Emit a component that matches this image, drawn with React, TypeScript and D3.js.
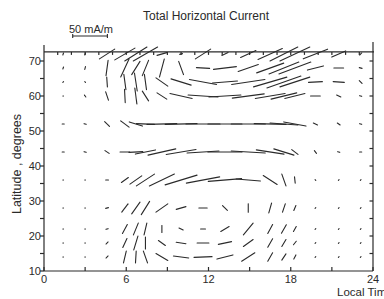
import React from "react";
import * as d3 from "d3";

// grid of the vectors: local time (h) and latitude (deg)
const hours = [1.4, 3.0, 4.6, 5.9, 6.7, 7.4, 8.6, 10.0, 11.6, 13.2, 14.9, 16.5, 17.5, 18.3, 19.8, 21.5, 23.1];
const lats = [72, 68, 64, 60, 52, 44, 36, 28, 22, 18, 14];

// [east, north] current in mA/m, one pair per local time
const lat72 = [[1, 3], [1, 3], [22, 14], [29, 17], [32, 20], [35, 20], [14, 4], [4, 1], [22, 14], [9, 4], [22, 10], [35, 16], [40, 20], [43, 20], [35, 14], [20, 9], [3, 3]];
const lat68 = [[1, 3], [1, 4], [3, 22], [12, 26], [12, 19], [9, 22], [7, 26], [7, -19], [19, -1], [33, 4], [29, 10], [39, 14], [43, 17], [46, 17], [23, 6], [14, 0], [4, -1]];
const lat64 = [[1, 1], [1, -1], [1, -14], [3, -22], [4, -26], [3, -22], [17, -12], [29, -9], [39, -7], [36, 3], [48, 7], [48, 14], [49, 17], [43, 14], [20, 1], [16, -1], [4, -4]];
const lat60 = [[1, 0], [2, -3], [4, -12], [1, -19], [3, -23], [9, -14], [14, -9], [32, -7], [43, -3], [46, 3], [46, 6], [43, 7], [37, 9], [29, 7], [14, 0], [6, -3], [3, -1]];
const lat52 = [[3, 0], [3, -1], [7, -7], [12, -9], [19, -6], [26, -1], [43, 1], [46, 1], [49, 0], [49, 0], [49, 0], [46, -1], [40, -3], [32, -6], [6, -3], [4, -3], [3, -1]];
const lat44 = [[3, 0], [3, -1], [6, -4], [14, 0], [20, 1], [29, 6], [40, 9], [43, 7], [46, 3], [49, 0], [49, -3], [40, -6], [29, -9], [9, -7], [3, -4], [3, -1], [3, 0]];
const lat36 = [[1, 0], [1, 0], [4, 0], [10, 7], [17, 12], [26, 17], [36, 17], [46, 14], [48, 9], [48, 4], [35, -3], [20, -13], [6, -17], [1, -9], [1, -1], [1, 1], [1, 1]];
const lat28 = [[1, 0], [1, 0], [4, 1], [9, 12], [12, 17], [12, 19], [17, 12], [14, 4], [12, 0], [7, -7], [0, 12], [4, 14], [4, 12], [3, 7], [1, 1], [1, 1], [1, 1]];
const lat22 = [[1, 0], [1, 0], [3, 1], [7, 13], [7, 17], [4, 17], [0, 10], [6, -3], [7, 0], [12, 7], [14, 17], [7, 13], [7, 12], [4, 7], [1, 1], [1, 1], [1, 1]];
const lat18 = [[1, 0], [1, 0], [3, 3], [6, 13], [6, 20], [0, 17], [10, -7], [14, -2], [17, 0], [19, 4], [14, 10], [7, 12], [6, 10], [4, 5], [1, 1], [1, 1], [1, 1]];
const lat14 = [[1, 0], [1, 0], [3, 3], [4, 17], [1, 17], [-6, 17], [17, -10], [22, -3], [26, 1], [23, 6], [19, 12], [7, 12], [6, 9], [3, 6], [1, 1], [1, 1], [1, 1]];
const rows = [lat72, lat68, lat64, lat60, lat52, lat44, lat36, lat28, lat22, lat18, lat14];

const latLabels = [10, 20, 30, 40, 50, 60, 70];
const latMinor = [15, 25, 35, 45, 55, 65];
const timeLabels = [0, 6, 12, 18, 24];
const timeMinor = [3, 9, 15, 21];
const scaleBar = 50; // mA/m

const font = "'Liberation Sans Narrow', 'Liberation Sans', Arial, sans-serif";
const ink = "#2a2a2a";

const App = () => {
    const x = d3.scaleLinear().domain([0, 24]).range([44, 373]);
    const y = d3.scaleLinear().domain([10, 70]).range([271, 61]);
    // vector length: 50 mA/m -> ~35 px
    const len = d3.scaleLinear().domain([0, 50]).range([0, 34.7]);

    const topY = y(72.6);
    const segs: { x1: number; y1: number; x2: number; y2: number }[] = [];
    rows.forEach((row, i) => {
        row.forEach(([e, n], j) => {
            const cx = x(hours[j]), cy = y(lats[i]);
            const dx = len(e) / 2, dy = len(n) / 2;
            segs.push({x1: cx - dx, y1: cy + dy, x2: cx + dx, y2: cy - dy});
        });
    });

    return (
        <div style={{position: "absolute", left: 0, top: 0}}>
            <svg width={384} height={299} viewBox="0 0 384 299" style={{display: "block", background: "#fff"}}>
                <text x={206} y={19.5} textAnchor="middle" fontSize={12} fontFamily={font} fill={ink}>
                    Total Horizontal Current
                </text>

                {/* scale bar */}
                <text x={69} y={33} fontSize={11} fontFamily={font} fill={ink}>50 mA/m</text>
                <g stroke={ink} strokeWidth={1.1}>
                    <line x1={72.7} x2={72.7 + len(scaleBar)} y1={36} y2={36}/>
                    <line x1={72.7} x2={72.7} y1={34} y2={38}/>
                    <line x1={72.7 + len(scaleBar)} x2={72.7 + len(scaleBar)} y1={34} y2={38}/>
                </g>

                {/* frame */}
                <g stroke={ink} strokeWidth={1.2} fill="none">
                    <line x1={x(0)} x2={x(0)} y1={45} y2={y(10)}/>
                    <line x1={x(24)} x2={x(24)} y1={42} y2={y(10)}/>
                    <line x1={x(0)} x2={x(24)} y1={y(10)} y2={y(10)}/>
                    <line x1={x(0)} x2={x(24) + 1} y1={topY} y2={topY}/>
                    {d3.range(1, 24).map(h => (
                        <line key={"tt" + h} x1={x(h)} x2={x(h)} y1={topY} y2={topY + 3}/>
                    ))}
                    {latLabels.concat(latMinor).map(l => (
                        <line key={"ly" + l} x1={x(0) - 4} x2={x(0)} y1={y(l)} y2={y(l)}/>
                    ))}
                    {d3.range(15, 75, 5).map(l => (
                        <line key={"ry" + l} x1={x(24) - 3.5} x2={x(24)} y1={y(l)} y2={y(l)}/>
                    ))}
                    {timeLabels.concat(timeMinor).map(h => (
                        <line key={"bx" + h} x1={x(h)} x2={x(h)} y1={y(10)} y2={y(10) - 4}/>
                    ))}
                </g>

                {latLabels.map(l => (
                    <text key={"lt" + l} x={41} y={y(l) + 4} textAnchor="end" fontSize={11} fontFamily={font} fill={ink}>{l}</text>
                ))}
                {timeLabels.map(h => (
                    <text key={"ht" + h} x={x(h)} y={283} textAnchor="middle" fontSize={11} fontFamily={font} fill={ink}>{h}</text>
                ))}
                <text x={337} y={296} fontSize={11.5} fontFamily={font} fill={ink}>Local Time</text>
                <text transform="translate(21,164) rotate(-90)" textAnchor="middle" fontSize={12.5} fontFamily={font} fill={ink}>
                    Latitude , degrees
                </text>

                {/* current vectors */}
                <g stroke={ink} strokeWidth={1.1} strokeLinecap="round">
                    {segs.map((s, i) => (
                        <line key={i} x1={s.x1} y1={s.y1} x2={s.x2} y2={s.y2}/>
                    ))}
                </g>
            </svg>
        </div>
    );
};

export default App;
